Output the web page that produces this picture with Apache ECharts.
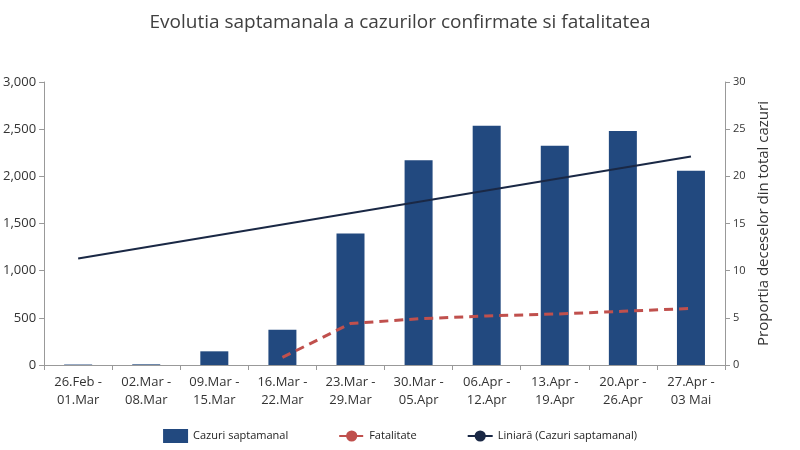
<!DOCTYPE html>
<html><head><meta charset="utf-8">
<script src="https://cdn.jsdelivr.net/npm/echarts@6/dist/echarts.min.js"></script>
<style>html,body{margin:0;padding:0;background:#fff}#c{width:800px;height:450px}</style>
</head><body><div id="c"></div>
<script>
var categories = ['26.Feb -\n01.Mar','02.Mar -\n08.Mar','09.Mar -\n15.Mar','16.Mar -\n22.Mar','23.Mar -\n29.Mar','30.Mar -\n05.Apr','06.Apr -\n12.Apr','13.Apr -\n19.Apr','20.Apr -\n26.Apr','27.Apr -\n03 Mai'];
var cazuri = [5, 7, 145, 375, 1395, 2170, 2535, 2325, 2480, 2060];
var fatalitate = [null, null, null, 0.8, 4.4, 4.9, 5.2, 5.4, 5.7, 6.0];
// trend line: only its two ends
var liniara = [1130, null, null, null, null, null, null, null, null, 2210];

var chart = echarts.init(document.getElementById('c'));
chart.setOption({
    animation: false,
    textStyle: {fontFamily: 'Open Sans, sans-serif'},
    title: {text: 'Evolutia saptamanala a cazurilor confirmate si fatalitatea', left: 'center', top: 8,
        textStyle: {fontSize: 19, fontWeight: 'normal', color: '#404040'}},
    legend: {bottom: 2, itemGap: 50, textStyle: {fontSize: 11, color: '#222'},
        data: [{name: 'Cazuri saptamanal', icon: 'rect'}, 'Fatalitate', 'Liniară (Cazuri saptamanal)']},
    grid: {left: 42, right: 75, top: 82, bottom: 85},
    xAxis: {type: 'category', data: categories,
        axisLine: {lineStyle: {color: '#999'}}, axisTick: {show: true, lineStyle: {color: '#999'}},
        axisLabel: {color: '#333', fontSize: 13, interval: 0, lineHeight: 18}},
    yAxis: [
        {type: 'value', min: 0, max: 3000, interval: 500, splitLine: {show: false},
         axisLine: {show: true, lineStyle: {color: '#999'}}, axisTick: {show: true},
         axisLabel: {color: '#333', fontSize: 13}},
        {type: 'value', min: 0, max: 30, interval: 5, splitLine: {show: false},
         name: 'Proportia deceselor din total cazuri', nameLocation: 'middle', nameGap: 30,
         nameTextStyle: {fontSize: 15, color: '#333'},
         axisLine: {show: true, lineStyle: {color: '#999'}}, axisTick: {show: true},
         axisLabel: {color: '#333', fontSize: 11}}
    ],
    series: [
        {name: 'Cazuri saptamanal', type: 'bar', data: cazuri, barWidth: 28,
         itemStyle: {color: '#22497f'}},
        {name: 'Fatalitate', type: 'line', yAxisIndex: 1, data: fatalitate, symbol: 'none',
         lineStyle: {color: '#c0504d', width: 3, type: [9, 6]}, itemStyle: {color: '#c0504d'}},
        {name: 'Liniară (Cazuri saptamanal)', type: 'line', data: liniara, connectNulls: true,
         symbol: 'none', lineStyle: {color: '#1a2845', width: 2}, itemStyle: {color: '#1a2845'}}
    ]
});
</script></body></html>
